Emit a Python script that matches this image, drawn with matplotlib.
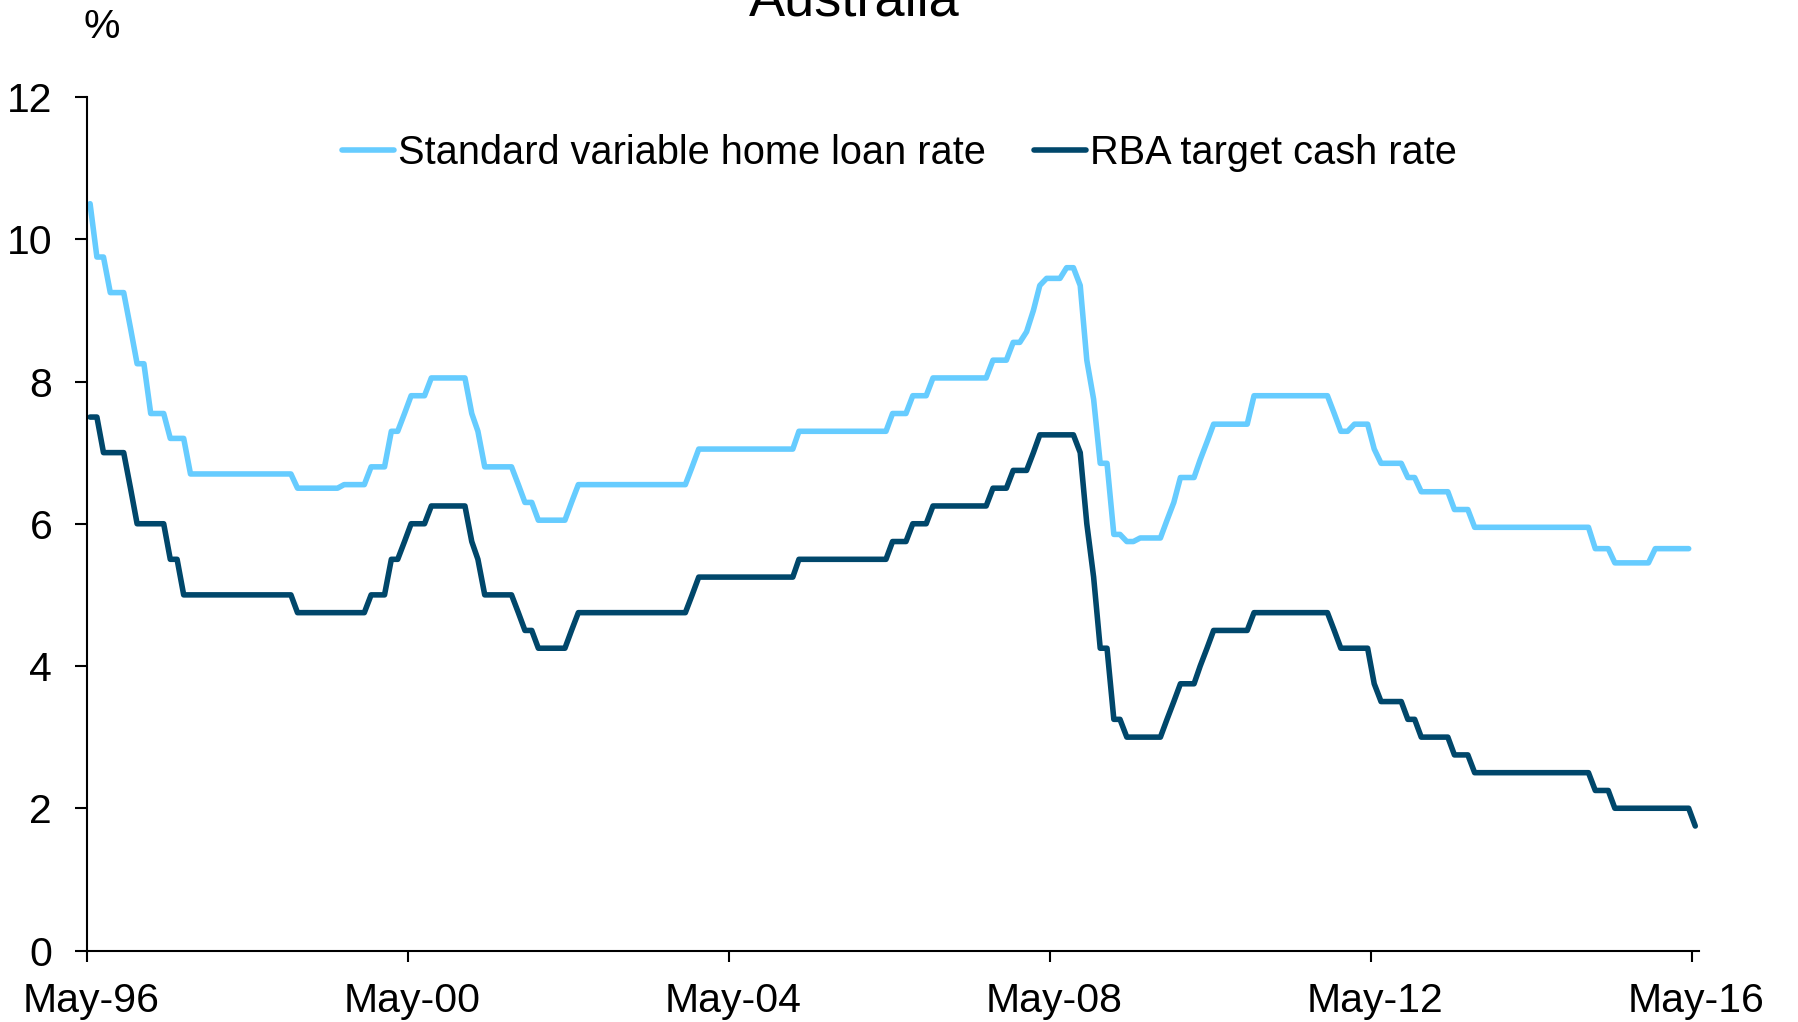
import matplotlib
matplotlib.use("Agg")
import matplotlib.pyplot as plt
import matplotlib.dates as mdates
import matplotlib.transforms as mtransforms
import pandas as pd

plt.rcParams['font.family'] = ['Liberation Sans', 'DejaVu Sans']

# Monthly observations, May-1996 .. May-2016
start_month = "1996-05"

# RBA target cash rate (%), one value per month, grouped by calendar year
cash_1996 = [7.5, 7.5, 7.0, 7.0, 7.0, 7.0, 6.5, 6.0]                       # May-Dec
cash_1997 = [6.0, 6.0, 6.0, 6.0, 5.5, 5.5, 5.0, 5.0, 5.0, 5.0, 5.0, 5.0]
cash_1998 = [5.0, 5.0, 5.0, 5.0, 5.0, 5.0, 5.0, 5.0, 5.0, 5.0, 5.0, 4.75]
cash_1999 = [4.75, 4.75, 4.75, 4.75, 4.75, 4.75, 4.75, 4.75, 4.75, 4.75, 5.0, 5.0]
cash_2000 = [5.0, 5.5, 5.5, 5.75, 6.0, 6.0, 6.0, 6.25, 6.25, 6.25, 6.25, 6.25]
cash_2001 = [6.25, 5.75, 5.5, 5.0, 5.0, 5.0, 5.0, 5.0, 4.75, 4.5, 4.5, 4.25]
cash_2002 = [4.25, 4.25, 4.25, 4.25, 4.5, 4.75, 4.75, 4.75, 4.75, 4.75, 4.75, 4.75]
cash_2003 = [4.75, 4.75, 4.75, 4.75, 4.75, 4.75, 4.75, 4.75, 4.75, 4.75, 5.0, 5.25]
cash_2004 = [5.25, 5.25, 5.25, 5.25, 5.25, 5.25, 5.25, 5.25, 5.25, 5.25, 5.25, 5.25]
cash_2005 = [5.25, 5.25, 5.5, 5.5, 5.5, 5.5, 5.5, 5.5, 5.5, 5.5, 5.5, 5.5]
cash_2006 = [5.5, 5.5, 5.5, 5.5, 5.75, 5.75, 5.75, 6.0, 6.0, 6.0, 6.25, 6.25]
cash_2007 = [6.25, 6.25, 6.25, 6.25, 6.25, 6.25, 6.25, 6.5, 6.5, 6.5, 6.75, 6.75]
cash_2008 = [6.75, 7.0, 7.25, 7.25, 7.25, 7.25, 7.25, 7.25, 7.0, 6.0, 5.25, 4.25]
cash_2009 = [4.25, 3.25, 3.25, 3.0, 3.0, 3.0, 3.0, 3.0, 3.0, 3.25, 3.5, 3.75]
cash_2010 = [3.75, 3.75, 4.0, 4.25, 4.5, 4.5, 4.5, 4.5, 4.5, 4.5, 4.75, 4.75]
cash_2011 = [4.75, 4.75, 4.75, 4.75, 4.75, 4.75, 4.75, 4.75, 4.75, 4.75, 4.5, 4.25]
cash_2012 = [4.25, 4.25, 4.25, 4.25, 3.75, 3.5, 3.5, 3.5, 3.5, 3.25, 3.25, 3.0]
cash_2013 = [3.0, 3.0, 3.0, 3.0, 2.75, 2.75, 2.75, 2.5, 2.5, 2.5, 2.5, 2.5]
cash_2014 = [2.5, 2.5, 2.5, 2.5, 2.5, 2.5, 2.5, 2.5, 2.5, 2.5, 2.5, 2.5]
cash_2015 = [2.5, 2.25, 2.25, 2.25, 2.0, 2.0, 2.0, 2.0, 2.0, 2.0, 2.0, 2.0]
cash_2016 = [2.0, 2.0, 2.0, 2.0, 1.75]                                     # Jan-May

# Standard variable home loan rate (%), one value per month
svr_1996 = [10.5, 9.75, 9.75, 9.25, 9.25, 9.25, 8.75, 8.25]                # May-Dec
svr_1997 = [8.25, 7.55, 7.55, 7.55, 7.2, 7.2, 7.2, 6.7, 6.7, 6.7, 6.7, 6.7]
svr_1998 = [6.7, 6.7, 6.7, 6.7, 6.7, 6.7, 6.7, 6.7, 6.7, 6.7, 6.7, 6.5]
svr_1999 = [6.5, 6.5, 6.5, 6.5, 6.5, 6.5, 6.55, 6.55, 6.55, 6.55, 6.8, 6.8]
svr_2000 = [6.8, 7.3, 7.3, 7.55, 7.8, 7.8, 7.8, 8.05, 8.05, 8.05, 8.05, 8.05]
svr_2001 = [8.05, 7.55, 7.3, 6.8, 6.8, 6.8, 6.8, 6.8, 6.55, 6.3, 6.3, 6.05]
svr_2002 = [6.05, 6.05, 6.05, 6.05, 6.3, 6.55, 6.55, 6.55, 6.55, 6.55, 6.55, 6.55]
svr_2003 = [6.55, 6.55, 6.55, 6.55, 6.55, 6.55, 6.55, 6.55, 6.55, 6.55, 6.8, 7.05]
svr_2004 = [7.05, 7.05, 7.05, 7.05, 7.05, 7.05, 7.05, 7.05, 7.05, 7.05, 7.05, 7.05]
svr_2005 = [7.05, 7.05, 7.3, 7.3, 7.3, 7.3, 7.3, 7.3, 7.3, 7.3, 7.3, 7.3]
svr_2006 = [7.3, 7.3, 7.3, 7.3, 7.55, 7.55, 7.55, 7.8, 7.8, 7.8, 8.05, 8.05]
svr_2007 = [8.05, 8.05, 8.05, 8.05, 8.05, 8.05, 8.05, 8.3, 8.3, 8.3, 8.55, 8.55]
svr_2008 = [8.7, 9.0, 9.35, 9.45, 9.45, 9.45, 9.6, 9.6, 9.35, 8.3, 7.75, 6.85]
svr_2009 = [6.85, 5.85, 5.85, 5.75, 5.75, 5.8, 5.8, 5.8, 5.8, 6.05, 6.3, 6.65]
svr_2010 = [6.65, 6.65, 6.9, 7.15, 7.4, 7.4, 7.4, 7.4, 7.4, 7.4, 7.8, 7.8]
svr_2011 = [7.8, 7.8, 7.8, 7.8, 7.8, 7.8, 7.8, 7.8, 7.8, 7.8, 7.55, 7.3]
svr_2012 = [7.3, 7.4, 7.4, 7.4, 7.05, 6.85, 6.85, 6.85, 6.85, 6.65, 6.65, 6.45]
svr_2013 = [6.45, 6.45, 6.45, 6.45, 6.2, 6.2, 6.2, 5.95, 5.95, 5.95, 5.95, 5.95]
svr_2014 = [5.95, 5.95, 5.95, 5.95, 5.95, 5.95, 5.95, 5.95, 5.95, 5.95, 5.95, 5.95]
svr_2015 = [5.95, 5.65, 5.65, 5.65, 5.45, 5.45, 5.45, 5.45, 5.45, 5.45, 5.65, 5.65]
svr_2016 = [5.65, 5.65, 5.65, 5.65]                                        # Jan-Apr

cash_rate = (cash_1996 + cash_1997 + cash_1998 + cash_1999 + cash_2000 + cash_2001
             + cash_2002 + cash_2003 + cash_2004 + cash_2005 + cash_2006 + cash_2007
             + cash_2008 + cash_2009 + cash_2010 + cash_2011 + cash_2012 + cash_2013
             + cash_2014 + cash_2015 + cash_2016)
svr_rate = (svr_1996 + svr_1997 + svr_1998 + svr_1999 + svr_2000 + svr_2001
            + svr_2002 + svr_2003 + svr_2004 + svr_2005 + svr_2006 + svr_2007
            + svr_2008 + svr_2009 + svr_2010 + svr_2011 + svr_2012 + svr_2013
            + svr_2014 + svr_2015 + svr_2016)

series_labels = ["Standard variable home loan rate", "RBA target cash rate"]
title_text = "Australia"
unit_text = "%"
y_ticks = [0, 2, 4, 6, 8, 10, 12]
x_tick_dates = ["1996-05-01", "2000-05-01", "2004-05-01", "2008-05-01",
                "2012-05-01", "2016-05-01"]

# mid-month observation dates
cash_dates = pd.period_range(start_month, periods=len(cash_rate), freq="M").to_timestamp() + pd.Timedelta(days=14)
svr_dates = pd.period_range(start_month, periods=len(svr_rate), freq="M").to_timestamp() + pd.Timedelta(days=14)

LIGHT = "#66CCFF"
DARK = "#00476B"
FS_TICK = 29.5
FS_LEG = 28.6

fig = plt.figure(figsize=(17.98, 10.22), dpi=100)
ax = fig.add_axes([87 / 1798, 1 - 950.5 / 1022, (1699 - 87) / 1798, (950.5 - 97) / 1022])

ax.plot(svr_dates, svr_rate, color=LIGHT, lw=4.0, solid_capstyle="round",
        solid_joinstyle="round", label=series_labels[0])
ax.plot(cash_dates, cash_rate, color=DARK, lw=4.0, solid_capstyle="round",
        solid_joinstyle="round", label=series_labels[1])

ax.set_ylim(0, 12)
ax.set_yticks(y_ticks)
ax.set_xlim(pd.Timestamp("1996-05-01"), pd.Timestamp("2016-06-01"))
ax.set_xticks(pd.to_datetime(x_tick_dates))
ax.xaxis.set_major_formatter(mdates.DateFormatter("%b-%y"))
ax.xaxis.set_minor_locator(plt.NullLocator())

for s in ["top", "right"]:
    ax.spines[s].set_visible(False)
for s in ["left", "bottom"]:
    ax.spines[s].set_linewidth(1.5)
    ax.spines[s].set_color("black")

ax.tick_params(axis="y", direction="out", length=8.6, width=1.5, pad=16.5, labelsize=FS_TICK)
ax.tick_params(axis="x", direction="out", length=8, width=1.5, pad=15, labelsize=FS_TICK)

shift = mtransforms.ScaledTranslation(4 / 100, 0, fig.dpi_scale_trans)
for lbl in ax.get_xticklabels():
    lbl.set_transform(lbl.get_transform() + shift)

leg = fig.legend(loc="center left", bbox_to_anchor=(342 / 1798, 1 - 152.5 / 1022),
                 ncol=2, frameon=False, fontsize=FS_LEG, borderpad=0, borderaxespad=0,
                 handlelength=1.3, handletextpad=0.1, columnspacing=1.22)

fig.text(854 / 1798, 1 - 15 / 1022, title_text, ha="center", va="baseline", fontsize=39)
fig.text(102 / 1798, 1 - 38.5 / 1022, unit_text, ha="center", va="baseline", fontsize=FS_TICK)

fig.savefig("out.png", dpi=100)
